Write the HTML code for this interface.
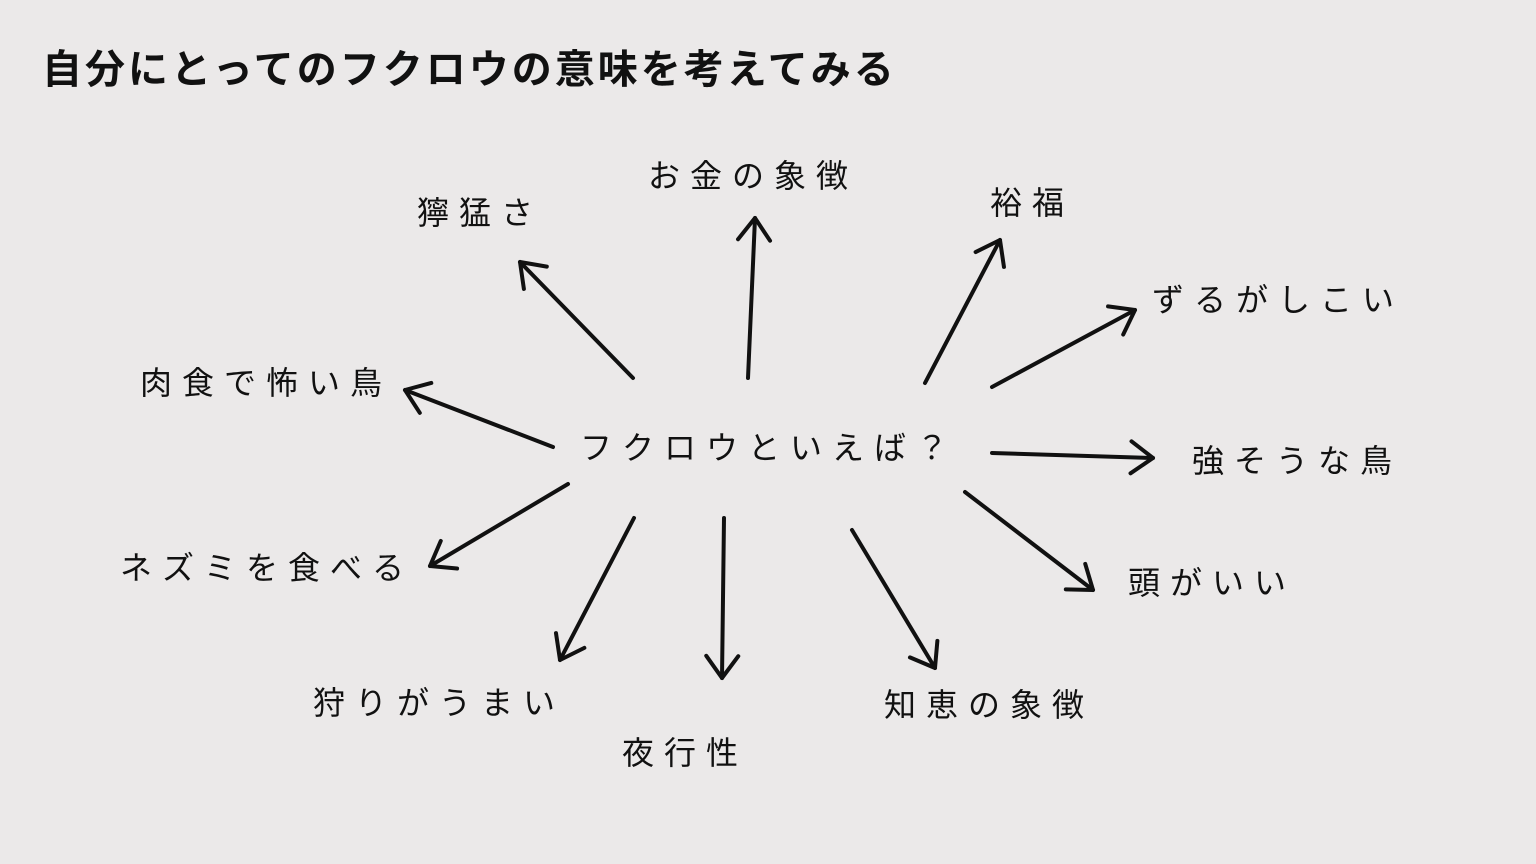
<!DOCTYPE html>
<html><head><meta charset="utf-8">
<style>
html,body{margin:0;padding:0}
body{width:1536px;height:864px;background:#ebe9e9;position:relative;overflow:hidden;font-family:"Liberation Sans","Noto Sans CJK JP",sans-serif;color:#111}
.t{position:absolute;left:42px;top:46px;font-size:40px;font-weight:bold;letter-spacing:3px;line-height:48px;white-space:nowrap}
.l{position:absolute;font-size:32px;letter-spacing:10px;line-height:40px;white-space:nowrap;font-weight:normal;margin-top:3px}
svg{position:absolute;left:0;top:0}
</style></head><body>
<div class="t">自分にとってのフクロウの意味を考えてみる</div>
<div class="l" style="left:580px;top:425px">フクロウといえば？</div>
<div class="l" style="left:648px;top:153px">お金の象徴</div>
<div class="l" style="left:417px;top:190px">獰猛さ</div>
<div class="l" style="left:990px;top:180px">裕福</div>
<div class="l" style="left:1152px;top:277px">ずるがしこい</div>
<div class="l" style="left:140px;top:360px">肉食で怖い鳥</div>
<div class="l" style="left:1192px;top:438px">強そうな鳥</div>
<div class="l" style="left:120px;top:545px">ネズミを食べる</div>
<div class="l" style="left:1128px;top:560px">頭がいい</div>
<div class="l" style="left:313px;top:680px">狩りがうまい</div>
<div class="l" style="left:622px;top:730px">夜行性</div>
<div class="l" style="left:884px;top:682px">知恵の象徴</div>
<svg width="1536" height="864" viewBox="0 0 1536 864">
<defs><marker id="a" markerUnits="userSpaceOnUse" markerWidth="40" markerHeight="40" refX="26" refY="20" orient="auto" viewBox="0 0 40 40">
<path d="M4,4 L26,20 L4,36" fill="none" stroke="#111" stroke-width="4" stroke-linecap="round" stroke-linejoin="round"/></marker></defs>
<g stroke="#111" stroke-width="4" stroke-linecap="round" fill="none" marker-end="url(#a)">
<line x1="633" y1="378" x2="520" y2="262"/>
<line x1="748" y1="378" x2="755" y2="218"/>
<line x1="925" y1="383" x2="1000" y2="240"/>
<line x1="992" y1="387" x2="1135" y2="310"/>
<line x1="553" y1="447" x2="405" y2="390"/>
<line x1="992" y1="453" x2="1153" y2="458"/>
<line x1="568" y1="484" x2="430" y2="566"/>
<line x1="965" y1="492" x2="1093" y2="590"/>
<line x1="634" y1="518" x2="560" y2="660"/>
<line x1="724" y1="518" x2="722" y2="678"/>
<line x1="852" y1="530" x2="935" y2="668"/>
</g>
</svg>
</body></html>
